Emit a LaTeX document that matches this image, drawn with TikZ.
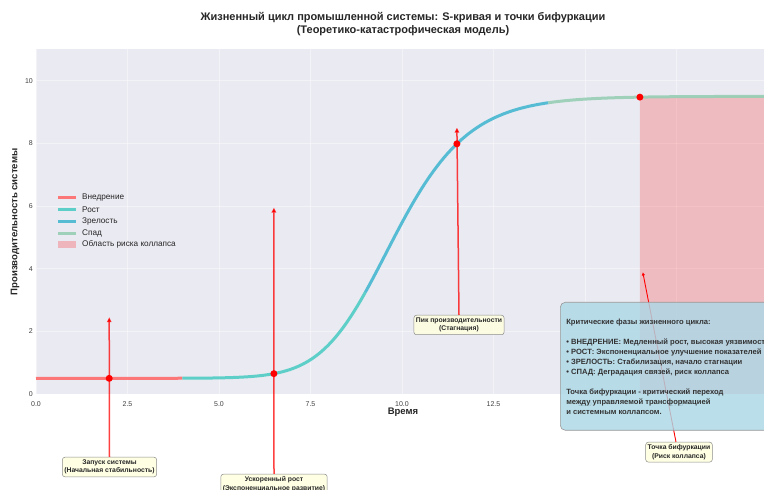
\documentclass[tikz,border=0pt]{standalone}
\usepackage{fontspec}
\setmainfont{Liberation Sans}
\usetikzlibrary{arrows.meta}

\definecolor{panel}{HTML}{EAEAF2}
\definecolor{cIntro}{HTML}{FF6B6B}
\definecolor{cGrowth}{HTML}{4ECDC4}
\definecolor{cMature}{HTML}{45B7D1}
\definecolor{cDecline}{HTML}{96CEB4}
\definecolor{noteyellow}{HTML}{FFFFE0}
\definecolor{infoblue}{HTML}{ADD8E6}
\definecolor{inkdark}{HTML}{262626}

% asymmetric S-curve of system performance (steep onset, slow saturation)
\def\perf#1{0.5+9/((1+exp(-0.85*((#1)-8.75)))^2)}

\begin{document}
\begin{tikzpicture}[x=1pt,y=1pt,
  phase/.style={line width=3pt, draw opacity=0.9},
  gridline/.style={white, line width=0.8pt, opacity=0.4},
  ticklab/.style={font=\fontsize{7}{8}\selectfont, text=black!75, inner sep=0pt},
  legtext/.style={font=\fontsize{8.2}{9}\selectfont, text=inkdark, anchor=west, inner sep=0pt},
  dot/.style={circle, fill=red, inner sep=0pt, minimum size=7pt},
  note/.style={draw=black!45, line width=0.5pt, rounded corners=2.5pt, fill=noteyellow,
    fill opacity=0.85, text opacity=1, align=center, inner xsep=2pt, inner ysep=2.5pt,
    font=\fontsize{6.8}{8.4}\selectfont\bfseries, text=inkdark},
  pointer/.style={red, draw opacity=0.75, line width=1.5pt, -{Triangle[length=5pt,width=4.5pt]}},
  thinpointer/.style={red, line width=0.9pt, -{Triangle[length=3pt,width=3pt]}},
  infobox/.style={draw=black!40, line width=0.6pt, rounded corners=5pt, fill=infoblue,
    fill opacity=0.82, text opacity=1, align=left, inner xsep=6pt, inner ysep=0pt,
    minimum height=128pt, font=\fontsize{7.6}{10}\selectfont\bfseries, text=black!80}
]
\clip (0,0) rectangle (764,490);
\fill[white] (0,0) rectangle (764,490);

% ---------- plotting area in data coordinates ----------
\begin{scope}[shift={(36,96)}, x=36.6pt, y=31.33pt]
  \fill[panel] (0,0) rectangle (20,11);
  \foreach \gx in {0,2.5,...,20} \draw[gridline] (\gx,0) -- (\gx,11);
  \foreach \gy in {0,2,...,10} \draw[gridline] (0,\gy) -- (20,\gy);

  % collapse-risk region under the curve after the bifurcation point
  \fill[red, fill opacity=0.2] (16.5,0) -- plot[domain=16.5:20, samples=20] (\x,{\perf{\x}}) -- (20,0) -- cycle;

  % life-cycle phases
  \draw[phase, cIntro] (0,0.5) -- (4,{\perf{4}});
  \draw[phase, cGrowth] plot[domain=4:9, samples=50] (\x,{\perf{\x}});
  \draw[phase, cMature] plot[domain=9:14, samples=50] (\x,{\perf{\x}});
  \draw[phase, cDecline] plot[domain=14:20, samples=40] (\x,{\perf{\x}});

  % key points and pointer targets
  \coordinate (k1) at (2,0.5);
  \coordinate (k2) at (6.5,{\perf{6.5}});
  \coordinate (k3) at (11.5,{\perf{11.5}});
  \coordinate (k4) at (16.5,{\perf{16.5}});
  \coordinate (t1) at (2,2.45);
  \coordinate (t2) at (6.5,5.95);
  \coordinate (t3) at (11.5,8.5);
  \coordinate (t4) at (16.58,3.88);

  % tick labels
  \foreach \tx/\tl in {0/0.0,2.5/2.5,5/5.0,7.5/7.5,10/10.0,12.5/12.5,15/15.0,17.5/17.5}
    \node[ticklab] at (\tx,-0.33) {\tl};
  \foreach \ty in {0,2,...,10}
    \node[ticklab, anchor=east] at (-0.08,\ty) {\ty};
\end{scope}

% ---------- axis titles and heading ----------
\node[font=\fontsize{9.5}{11}\selectfont\bfseries, text=inkdark] (xlab) at (403,77.5) {Время};
\node[font=\fontsize{9.6}{11}\selectfont\bfseries, text=inkdark, rotate=90] (ylab) at (15,268) {Производительность системы};
\node[font=\fontsize{11}{13}\selectfont\bfseries, text=inkdark, align=center] (title) at (403,465.5)
  {Жизненный цикл промышленной системы: S-кривая и точки бифуркации\\(Теоретико-катастрофическая модель)};

% ---------- legend ----------
\draw[phase, cIntro] (58,292.5) -- (76,292.5);
\node[legtext] (lg1) at (82,292.5) {Внедрение};
\draw[phase, cGrowth] (58,280.5) -- (76,280.5);
\node[legtext] (lg2) at (82,280.5) {Рост};
\draw[phase, cMature] (58,268.5) -- (76,268.5);
\node[legtext] (lg3) at (82,268.5) {Зрелость};
\draw[phase, cDecline] (58,256.5) -- (76,256.5);
\node[legtext] (lg4) at (82,256.5) {Спад};
\fill[red, fill opacity=0.22] (58,242) rectangle (76,249);
\node[legtext] (lg5) at (82,245.5) {Область риска коллапса};

% ---------- annotations ----------
\node[note, anchor=north] (n1) at (109.5,33) {Запуск системы\\(Начальная стабильность)};
\node[note, anchor=north] (n2) at (274,16) {Ускоренный рост\\(Экспоненциальное развитие)};
\node[note, anchor=north] (n3) at (459,175) {Пик производительности\\(Стагнация)};
\node[note, anchor=north] (n4) at (679,48) {Точка бифуркации\\(Риск коллапса)};

\draw[pointer] (n1.north) -- (t1);
\draw[pointer] (n2.north) -- (t2);
\draw[pointer] (n3.north) -- (t3);
\draw[thinpointer] (n4.north -| 676,0) -- (t4);

\foreach \k in {k1,k2,k3,k4} \node[dot] at (\k) {};

% ---------- phase summary ----------
\node[infobox, anchor=north west] (info) at (560,188) {%
Критические фазы жизненного цикла:\\[10pt]
• ВНЕДРЕНИЕ: Медленный рост, высокая уязвимость\\
• РОСТ: Экспоненциальное улучшение показателей\\
• ЗРЕЛОСТЬ: Стабилизация, начало стагнации\\
• СПАД: Деградация связей, риск коллапса\\[10pt]
Точка бифуркации - критический переход\\
между управляемой трансформацией\\
и системным коллапсом.};
\end{tikzpicture}
\end{document}
